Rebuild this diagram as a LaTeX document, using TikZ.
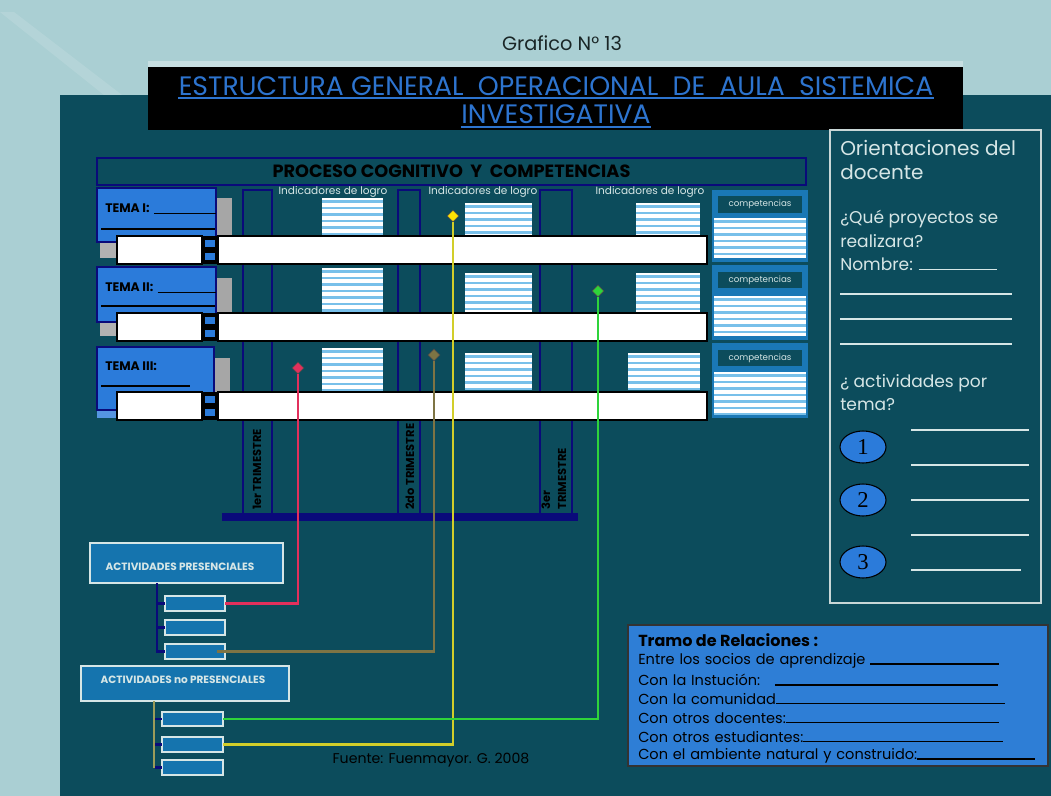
\documentclass[tikz,border=0pt]{standalone}
\usepackage{fontspec}
\setmainfont{Poppins}
\newfontfamily\numfont{Liberation Serif}
\usetikzlibrary{shapes.geometric}

\definecolor{bglight}{HTML}{AACFD3}
\definecolor{panel}{HTML}{0C4C5C}
\definecolor{navy}{HTML}{0A0A7A}
\definecolor{temablue}{HTML}{2B7BDA}
\definecolor{titleblue}{HTML}{2D74CF}
\definecolor{stripeblue}{HTML}{78C0EA}
\definecolor{compblue}{HTML}{1A78B6}
\definecolor{actblue}{HTML}{1574AE}
\definecolor{softwhite}{HTML}{D6E6E6}
\definecolor{redline}{HTML}{E2305C}
\definecolor{brownline}{HTML}{7E7444}
\definecolor{yellowline}{HTML}{D2CE2A}
\definecolor{greenline}{HTML}{2FD43A}
\definecolor{khaki}{HTML}{9C9C5A}
\definecolor{tramo}{HTML}{2E7ED6}
\definecolor{darktext}{HTML}{1A2626}

% a filled rule running to the end of the line
\newcommand\blank{\leavevmode\leaders\hrule height 0.9pt\hfill\kern0pt}
% white box with light blue horizontal bands
\newcommand\stripes[4]{%
  \begin{scope}
    \clip (#1,#2) rectangle (#3,#4);
    \fill[white] (#1,#2) rectangle (#3,#4);
    \foreach \k in {0,...,12}{\fill[stripeblue] (#1,#2+2+\k*6.5) rectangle (#3,#2+4.8+\k*6.5);}
  \end{scope}}

\tikzset{
  wh/.style 2 args={minimum width=#1*0.75pt, minimum height=#2*0.75pt, inner sep=0pt, outer sep=0pt},
  temabox/.style={fill=temablue, draw=navy, line width=1pt},
  temalabel/.style={anchor=west, inner sep=0pt, font=\bfseries\fontsize{9.3}{10}\selectfont},
  whitebar/.style={fill=white, draw=black, line width=1.2pt},
  miniblue/.style={fill=temablue, draw=black, line width=0.8pt, wh={12}{9}},
  column/.style={draw=navy, line width=1.3pt},
  compbox/.style={fill=compblue},
  complabel/.style={fill=panel, text=softwhite, font=\fontsize{6.5}{7}\selectfont},
  indic/.style={text=softwhite, font=\fontsize{7.9}{8}\selectfont, inner sep=0pt},
  vtext/.style={rotate=90, anchor=west, font=\bfseries\fontsize{8.6}{9}\selectfont, inner sep=0pt},
  linkmark/.style={diamond, draw=black!70, line width=0.6pt, inner sep=0pt, minimum size=12*0.75pt},
  link/.style={line width=1.6pt},
  actbox/.style={fill=actblue, draw=softwhite, line width=1.2pt},
  subbox/.style={fill=actblue, draw=softwhite, line width=1pt},
  acttext/.style={text=softwhite, font=\bfseries\fontsize{7.9}{8}\selectfont, inner sep=0pt},
  orient/.style={text=softwhite, anchor=west, inner sep=0pt},
  orbig/.style={orient, font=\fontsize{15}{16}\selectfont},
  orsmall/.style={orient, font=\fontsize{12.8}{14}\selectfont},
  numoval/.style={ellipse, fill=temablue, draw=black, line width=0.8pt, wh={46}{32}, font=\numfont\fontsize{17}{17}\selectfont},
  tramoline/.style={anchor=west, inner sep=0pt, font=\fontsize{10.9}{12}\selectfont},
  titleline/.style={text=titleblue, anchor=base, inner sep=0pt, font=\fontsize{20}{22}\selectfont},
}

\begin{document}
\begin{tikzpicture}[x=0.75pt,y=-0.75pt]
\useasboundingbox (0,0) rectangle (1051,796);

% backdrop and panel
\fill[bglight] (0,0) rectangle (1051,796);
\fill[white,opacity=0.12] (0,12)--(14,12)--(122,95)--(104,95)--cycle;
\fill[white,opacity=0.35] (148,61) rectangle (963,67);
\fill[panel] (60,95) rectangle (1051,796);

% heading
\node[text=darktext, font=\fontsize{14.5}{16}\selectfont] (grafico) at (562,43) {Grafico N° 13};
\node[fill=black, wh={815}{63}] (title) at (555.5,98.5) {};
\node[titleline] (title1) at (556,95) {ESTRUCTURA GENERAL\ \ OPERACIONAL\ \ DE\ \ AULA\ \ SISTEMICA};
\node[titleline] (title2) at (556,123.5) {INVESTIGATIVA};
\draw[titleblue, line width=1.3pt] ([yshift=-2.4pt]title1.base west) -- ([yshift=-2.4pt]title1.base east);
\draw[titleblue, line width=1.3pt] ([yshift=-2.4pt]title2.base west) -- ([yshift=-2.4pt]title2.base east);

% cognitive process header
\node[draw=navy, line width=1.5pt, wh={709}{27}, font=\bfseries\fontsize{13.3}{14}\selectfont] (proceso) at (451.5,171.5)
  {PROCESO COGNITIVO\ \ Y\ \ COMPETENCIAS};

% indicator headings
\node[indic] (ind1) at (333,192) {Indicadores de logro};
\node[indic] (ind2) at (483,192) {Indicadores de logro};
\node[indic] (ind3) at (650,192) {Indicadores de logro};

% period columns
\node[column, wh={29}{325}] (col1) at (257.5,352.5) {};
\node[column, wh={22}{325}] (col2) at (409,352.5) {};
\node[column, wh={32}{325}] (col3) at (556,352.5) {};
\node[fill=navy, wh={356}{8}] (base) at (400,517) {};

\node[vtext] (per1) at (257,510) {1er TRIMESTRE};
\node[vtext] (per2) at (410,510) {2do TRIMESTRE};
\node[vtext] (per3a) at (546,510) {3er};
\node[vtext] (per3b) at (562,510) {TRIMESTRE};

% indicator stripes
\stripes{322}{198}{383}{235}
\stripes{465}{203}{532}{235}
\stripes{636}{203}{700}{235}
\stripes{322}{268}{383}{312}
\stripes{465}{273}{532}{312}
\stripes{636}{273}{700}{312}
\stripes{322}{348}{383}{390}
\stripes{465}{353}{532}{390}
\stripes{628}{353}{700}{390}

% competencias column
\node[compbox, wh={96}{72}] (comp1) at (760,226) {};
\node[complabel, wh={84}{17}] (cl1) at (760,204.5) {competencias};
\stripes{714}{218}{806}{258}
\node[compbox, wh={96}{75}] (comp2) at (760,302.5) {};
\node[complabel, wh={84}{16}] (cl2) at (760,280) {competencias};
\stripes{714}{296}{806}{336}
\node[compbox, wh={96}{75}] (comp3) at (760,380.5) {};
\node[complabel, wh={84}{16}] (cl3) at (760,358) {competencias};
\stripes{714}{372}{806}{414}

% topic cards with their shadows
\fill[gray!70] (217,198) rectangle (232,238);
\fill[gray!70] (217,278) rectangle (232,316);
\fill[gray!70] (215,358) rectangle (230,396);
\fill[gray!60] (100,240) rectangle (117,258);
\fill[gray!60] (100,320) rectangle (117,336);
\fill[temablue!80] (97,400) rectangle (117,418);

\node[temabox, wh={119}{54}] (tema1) at (156.5,215) {};
\node[temabox, wh={119}{55}] (tema2) at (156.5,294.5) {};
\node[temabox, wh={117}{63}] (tema3) at (155.5,378.5) {};
\node[temalabel] (tl1) at (105,208) {TEMA I:};
\node[temalabel] (tl2) at (105,287) {TEMA II:};
\node[temalabel] (tl3) at (105,366) {TEMA III:};
\draw[black, line width=1.2pt] ([xshift=3pt,yshift=-4pt]tl1.east) -- ([yshift=-4pt]tl1.east -| tema1.east) (101,229) -- (215,229);
\draw[black, line width=1.2pt] ([xshift=3pt,yshift=-4pt]tl2.east) -- ([yshift=-4pt]tl2.east -| tema2.east) (101,306) -- (215,306);
\draw[black, line width=1.2pt] (101,386) -- (190,386);

% white writing bars
\node[whitebar, wh={85}{28}] (bl1) at (159.5,250) {};
\node[whitebar, wh={489}{28}] (br1) at (462.5,250) {};
\node[fill=black, wh={16}{28}] (bs1) at (210,250) {};
\node[miniblue] (sq1a) at (210,243.5) {};
\node[miniblue] (sq1b) at (210,256.5) {};

\node[whitebar, wh={85}{28}] (bl2) at (159.5,327) {};
\node[whitebar, wh={489}{28}] (br2) at (462.5,327) {};
\node[fill=black, wh={16}{28}] (bs2) at (210,327) {};
\node[miniblue] (sq2a) at (210,320.5) {};
\node[miniblue] (sq2b) at (210,333.5) {};

\node[whitebar, wh={85}{28}] (bl3) at (159.5,406) {};
\node[whitebar, wh={489}{28}] (br3) at (462.5,406) {};
\node[fill=black, wh={16}{28}] (bs3) at (210,406) {};
\node[miniblue] (sq3a) at (210,399.5) {};
\node[miniblue] (sq3b) at (210,412.5) {};

% activity groups
\node[actbox, wh={193}{40}] (apres) at (186.5,563) {};
\node[acttext] (apt) at (180,567) {ACTIVIDADES PRESENCIALES};
\node[subbox, wh={60}{15}] (pa1) at (195,603.5) {};
\node[subbox, wh={60}{15}] (pa2) at (195,627.5) {};
\node[subbox, wh={60}{15}] (pa3) at (195,651.5) {};

\node[actbox, wh={208}{35}] (anpres) at (185,683.5) {};
\node[acttext] (anpt) at (183,680) {ACTIVIDADES no PRESENCIALES};
\node[subbox, wh={61}{14}] (pn1) at (192.5,719) {};
\node[subbox, wh={61}{15}] (pn2) at (192.5,744.5) {};
\node[subbox, wh={61}{15}] (pn3) at (192.5,767.5) {};

% group brackets
\draw[navy, line width=2pt] ([xshift=-6pt]pa1.west |- apres.south) |- (pa3.west);
\draw[navy, line width=2pt] ([xshift=-6pt]pa1.west) -- (pa1.west);
\draw[navy, line width=2pt] ([xshift=-6pt]pa2.west) -- (pa2.west);
\draw[khaki, line width=1.6pt] ([xshift=-6pt]pn1.west |- anpres.south) -- ([xshift=-6pt]pn3.west);
\draw[navy, line width=1.6pt] ([xshift=-5pt]pn1.west) -- (pn1.west);
\draw[navy, line width=1.6pt] ([xshift=-5pt]pn2.west) -- (pn2.west);
\draw[navy, line width=1.6pt] ([xshift=-5pt]pn3.west) -- (pn3.west);

% links from indicators to activities
\node[linkmark, fill=redline] (dred) at (298,368) {};
\node[linkmark, fill=brownline] (dbrown) at (434,355) {};
\node[linkmark, fill=yellow!85!orange] (dyellow) at (453,216) {};
\node[linkmark, fill=greenline] (dgreen) at (598,291) {};
\draw[link, redline] (dred) |- (pa1.east);
\draw[link, brownline] (dbrown) |- ([xshift=-6pt]pa3.east);
\draw[link, yellowline] (dyellow) |- (pn2.east);
\draw[link, greenline] (dgreen) |- (pn1.east);

\node[text=black, font=\fontsize{10.6}{11}\selectfont] (fuente) at (431,760) {Fuente: Fuenmayor. G. 2008};

% teacher guidance panel
\node[draw=softwhite!85!gray, line width=1.5pt, wh={211}{473}] (orient) at (935,366.5) {};
\node[orbig] (o1) at (840,148) {Orientaciones del};
\node[orbig] (o2) at (840,172) {docente};
\node[orsmall] (o3) at (840,219) {¿Qué proyectos se};
\node[orsmall] (o4) at (840,241) {realizara?};
\node[orsmall, text width=157*0.75pt] (o5) at (840,264) {Nombre:\ \blank};
\draw[softwhite, line width=1.3pt] (840,294) -- (1012,294) (840,319) -- (1012,319) (840,344) -- (1012,344);
\node[orsmall] (o6) at (840,383) {¿ actividades por};
\node[orsmall] (o7) at (840,405) {tema?};
\node[numoval] (n1) at (863,447) {1};
\node[numoval] (n2) at (863,500) {2};
\node[numoval] (n3) at (863,562) {3};
\draw[softwhite, line width=1.3pt] (911,430) -- (1029,430) (911,465) -- (1029,465) (911,500) -- (1029,500) (911,535) -- (1029,535) (911,570) -- (1021,570);

% relations box
\node[fill=tramo, draw=black!80, line width=1.2pt, wh={420}{141}] (tramo) at (838,695.5) {};
\node[tramoline, font=\bfseries\fontsize{12}{13}\selectfont] (r0) at (638,640) {Tramo de Relaciones :};
\node[tramoline, text width=361*0.75pt] (r1) at (638,661) {Entre los socios de aprendizaje \blank};
\node[tramoline, text width=360*0.75pt] (r2) at (638,680) {Con la Instución:\quad\blank};
\node[tramoline, text width=367*0.75pt] (r3) at (638,699) {Con la comunidad\blank};
\node[tramoline, text width=361*0.75pt] (r4) at (638,718) {Con otros docentes:\blank};
\node[tramoline, text width=365*0.75pt] (r5) at (638,737) {Con otros estudiantes:\blank};
\node[tramoline, text width=397*0.75pt] (r6) at (638,756) {Con el ambiente natural y construido:\blank};
\end{tikzpicture}
\end{document}
